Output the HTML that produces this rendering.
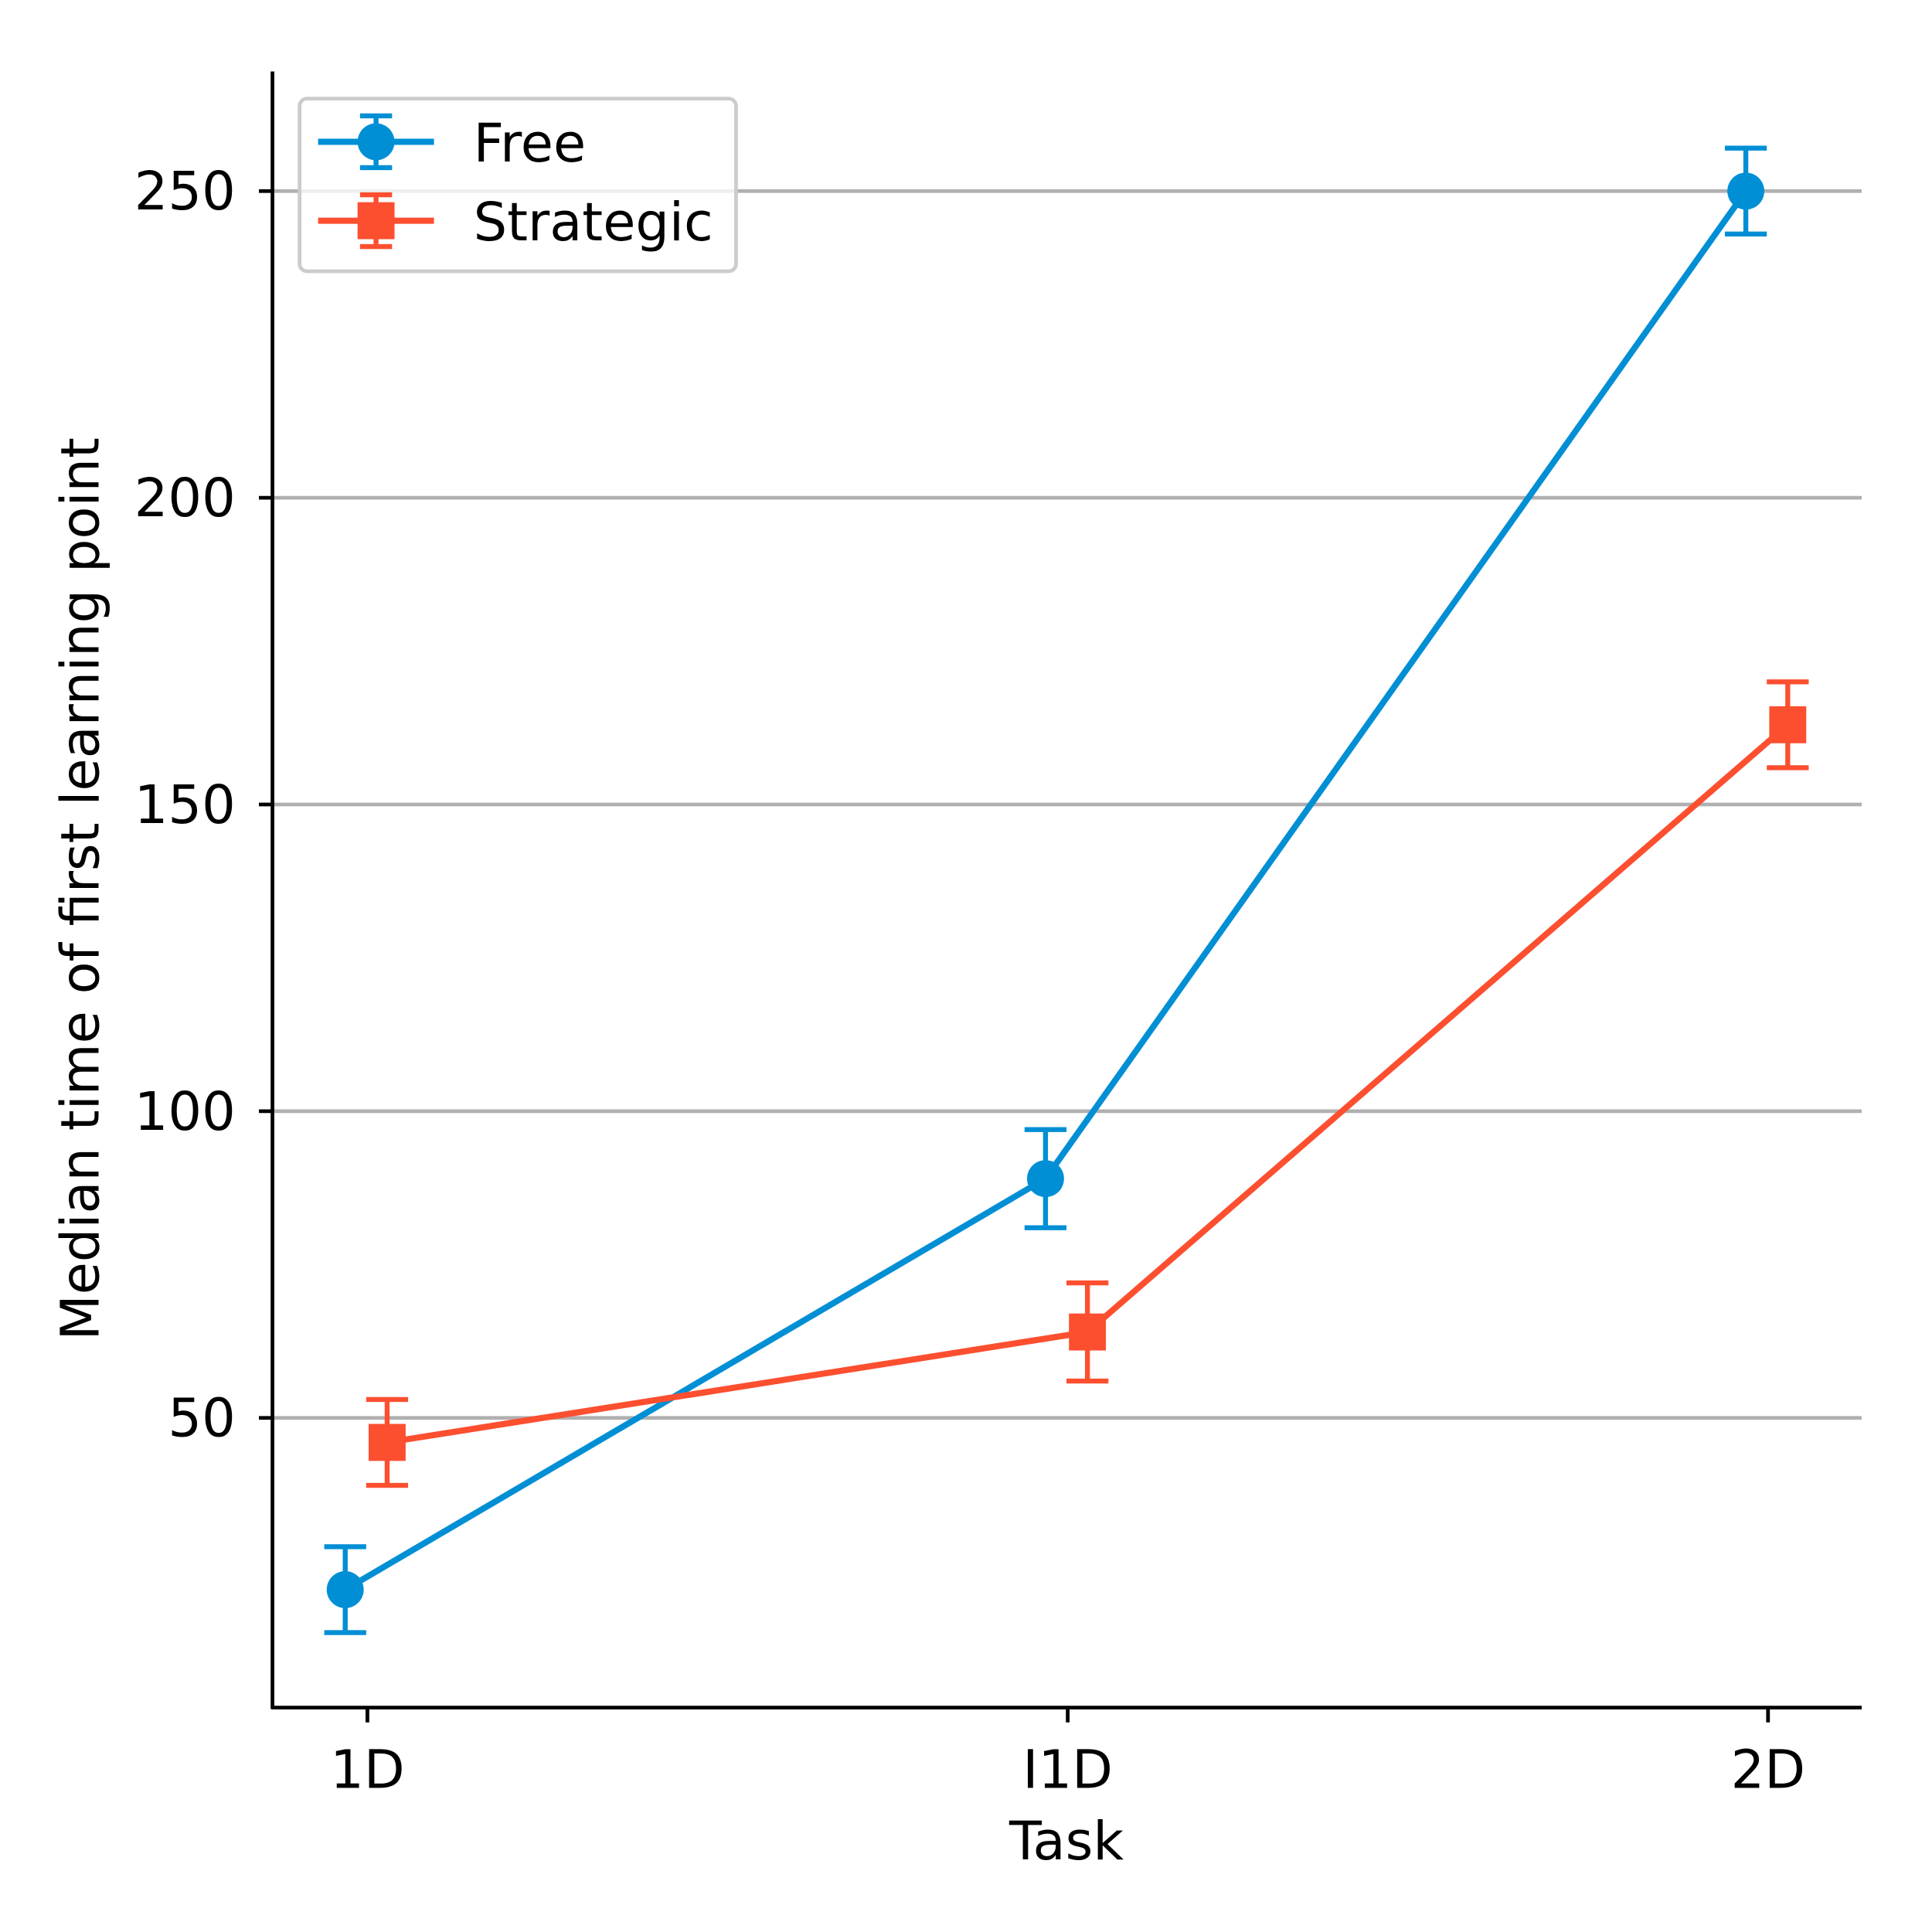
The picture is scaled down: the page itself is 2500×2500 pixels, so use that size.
<!DOCTYPE html>
<html><head><meta charset="utf-8"><style>
html,body{margin:0;padding:0;background:#fff}
svg{display:block}
text{font-family:"DejaVu Sans","Liberation Sans",sans-serif;fill:#000}
</style></head><body>
<svg id="chart" width="2500" height="2500" viewBox="0 0 1567 1567" xmlns="http://www.w3.org/2000/svg">
<g id="grid"></g>
<g id="series"></g>
<line x1="221" y1="58" x2="221" y2="1386" stroke="#000" stroke-width="3"/>
<line x1="220" y1="1385" x2="1510" y2="1385" stroke="#000" stroke-width="3"/>
<g id="ticks"></g>
<text x="865" y="1508" font-size="43" text-anchor="middle">Task</text>
<text transform="translate(80,721) rotate(-90)" font-size="43" text-anchor="middle">Median time of first learning point</text>
<g>
<rect x="243" y="80" width="354" height="140" rx="6" fill="#fff" fill-opacity="0.8" stroke="#ccc" stroke-width="3"/>
<g>
<line x1="258" y1="115" x2="352" y2="115" stroke="#008fd5" stroke-width="5"/>
<line x1="305" y1="94" x2="305" y2="136" stroke="#008fd5" stroke-width="4"/>
<line x1="292" y1="94" x2="318" y2="94" stroke="#008fd5" stroke-width="4"/>
<line x1="292" y1="136" x2="318" y2="136" stroke="#008fd5" stroke-width="4"/>
<circle cx="305" cy="115" r="15" fill="#008fd5"/>
<text x="384" y="131" font-size="43">Free</text>
</g>
<g>
<line x1="258" y1="179" x2="352" y2="179" stroke="#fc4f30" stroke-width="5"/>
<line x1="305" y1="158" x2="305" y2="200" stroke="#fc4f30" stroke-width="4"/>
<line x1="292" y1="158" x2="318" y2="158" stroke="#fc4f30" stroke-width="4"/>
<line x1="292" y1="200" x2="318" y2="200" stroke="#fc4f30" stroke-width="4"/>
<rect x="290" y="164" width="30" height="30" fill="#fc4f30"/>
<text x="384" y="195" font-size="43">Strategic</text>
</g>
</g>
</svg>
<script>
const categories = ["1D", "I1D", "2D"];
const freeValues = [22, 89, 250];
const freeErrors = [7, 8, 7];
const strategicValues = [46, 64, 163];
const strategicErrors = [7, 8, 7];
const yTicks = [50, 100, 150, 200, 250];

const NS = "http://www.w3.org/2000/svg";
function yScale(v){ return 1150 - (v - 50) * 4.975; }
function xScale(i){ return 298 + i * 568; }
function mk(tag, attrs, parent){
  const e = document.createElementNS(NS, tag);
  for (const k in attrs) e.setAttribute(k, attrs[k]);
  parent.appendChild(e); return e;
}
const grid = document.getElementById('grid');
const ticks = document.getElementById('ticks');
const series = document.getElementById('series');
yTicks.forEach(v => {
  const y = yScale(v);
  const g = mk('line', {x1:221, x2:1510, y1:y, y2:y, stroke:'#b0b0b0', 'stroke-width':3}, grid);
  
  
  const t = mk('line', {x1:210, x2:221, y1:y, y2:y, stroke:'#000', 'stroke-width':3}, ticks);
  
  
  const l = mk('text', {x:191, y:y+15, 'font-size':43, 'text-anchor':'end'}, ticks);
  l.textContent = v;
  
  
});
categories.forEach((c, i) => {
  const x = xScale(i);
  const t = mk('line', {x1:x, x2:x, y1:1385, y2:1397, stroke:'#000', 'stroke-width':3}, ticks);
  
  
  const l = mk('text', {x:x, y:1450, 'font-size':43, 'text-anchor':'middle'}, ticks);
  l.textContent = c;
  
  
});
function drawSeries(vals, errs, offset, color, name, marker){
  const g = mk('g', {}, series);
  
  
  const pts = vals.map((v, i) => (xScale(i) + offset) + ',' + yScale(v)).join(' ');
  const pl = mk('polyline', {points:pts, fill:'none', stroke:color, 'stroke-width':5}, g);
  
  
  vals.forEach((v, i) => {
    const x = xScale(i) + offset, y = yScale(v);
    const yt = yScale(v + errs[i]), yb = yScale(v - errs[i]);
    const eb = mk('g', {stroke:color, 'stroke-width':4}, g);
    
    
    mk('line', {x1:x, x2:x, y1:yt, y2:yb}, eb);
    mk('line', {x1:x-17, x2:x+17, y1:yt, y2:yt}, eb);
    mk('line', {x1:x-17, x2:x+17, y1:yb, y2:yb}, eb);
    let m;
    if (marker === 'circle') m = mk('circle', {cx:x, cy:y, r:15, fill:color}, g);
    else m = mk('rect', {x:x-15, y:y-15, width:30, height:30, fill:color}, g);
    
    
  });
}
drawSeries(freeValues, freeErrors, -18, '#008fd5', 'free', 'circle');
drawSeries(strategicValues, strategicErrors, 16, '#fc4f30', 'strategic', 'square');
</script>
</body></html>
